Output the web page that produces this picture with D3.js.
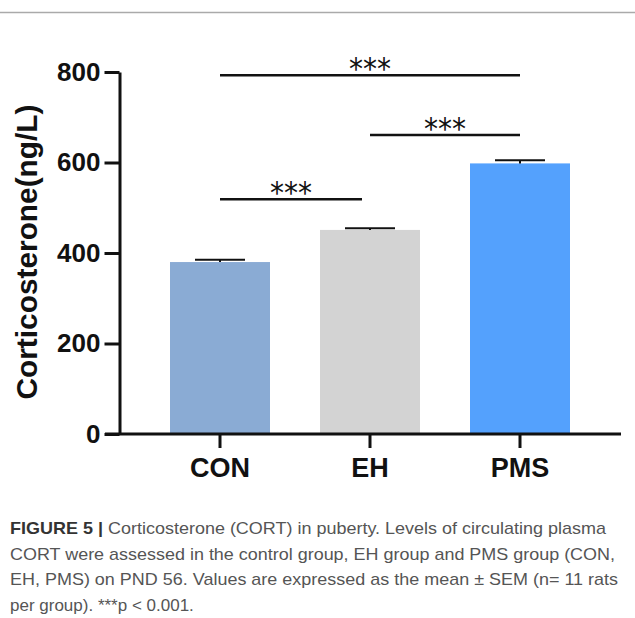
<!DOCTYPE html>
<html>
<head>
<meta charset="utf-8">
<script src="https://cdn.jsdelivr.net/npm/d3@7"></script>
<style>
  html, body { margin: 0; padding: 0; background: #fff; }
  svg { display: block; }
</style>
</head>
<body>
<div id="chart"></div>
<script>
// data
var groups = ["CON", "EH", "PMS"];
var means = [380, 451, 598];
var sems = [5, 3.5, 7];
var yTicks = [0, 200, 400, 600, 800];
// significance brackets (level in ng/L)
var sigFrom = ["CON", "EH", "CON"];
var sigTo = ["PMS", "PMS", "EH"];
var sigLevel = [793, 661, 519];
var sigLabel = ["***", "***", "***"];
var barColors = ["#8aabd4", "#d3d3d3", "#54a1fd"];

var captionLines = [
  "Corticosterone (CORT) in puberty. Levels of circulating plasma",
  "CORT were assessed in the control group, EH group and PMS group (CON,",
  "EH, PMS) on PND 56. Values are expressed as the mean \u00b1 SEM (n= 11 rats",
  "per group). ***p < 0.001."
];

var width = 635, height = 618;
var svg = d3.select("#chart").append("svg")
  .attr("width", width)
  .attr("height", height);

// thin rule at the top of the figure
svg.append("line")
  .attr("x1", 0).attr("x2", width)
  .attr("y1", 12.5).attr("y2", 12.5)
  .attr("stroke", "#aaa").attr("stroke-width", 1.5);

var x = d3.scaleBand()
  .domain(groups)
  .range([145, 595])
  .paddingInner(1 / 3)
  .paddingOuter(1 / 6);

var y = d3.scaleLinear()
  .domain([0, 800])
  .range([434, 72]);

var color = d3.scaleOrdinal().domain(groups).range(barColors);

var data = groups.map(function(g, i) {
  return { group: g, mean: means[i], sem: sems[i] };
});

// bars
svg.selectAll("rect.bar")
  .data(data)
  .enter().append("rect")
  .attr("class", "bar")
  .attr("x", function(d) { return x(d.group); })
  .attr("width", x.bandwidth())
  .attr("y", function(d) { return y(d.mean); })
  .attr("height", function(d) { return y(0) - y(d.mean); })
  .attr("fill", function(d) { return color(d.group); });

// error bars (upper only)
var err = svg.selectAll("g.err")
  .data(data)
  .enter().append("g")
  .attr("class", "err")
  .attr("stroke", "#111")
  .attr("stroke-width", 2);

err.append("line")
  .attr("x1", function(d) { return x(d.group) + x.bandwidth() / 2; })
  .attr("x2", function(d) { return x(d.group) + x.bandwidth() / 2; })
  .attr("y1", function(d) { return y(d.mean); })
  .attr("y2", function(d) { return y(d.mean + d.sem); });

err.append("line")
  .attr("x1", function(d) { return x(d.group) + x.bandwidth() / 2 - 25; })
  .attr("x2", function(d) { return x(d.group) + x.bandwidth() / 2 + 25; })
  .attr("y1", function(d) { return y(d.mean + d.sem); })
  .attr("y2", function(d) { return y(d.mean + d.sem); });

// y axis
var yAxis = svg.append("g")
  .attr("transform", "translate(119.5,0)")
  .call(d3.axisLeft(y).tickValues(yTicks).tickSize(15).tickSizeOuter(0).tickPadding(4));
yAxis.select(".domain").attr("stroke", "#111").attr("stroke-width", 3);
yAxis.selectAll(".tick line").attr("stroke", "#111").attr("stroke-width", 3);
yAxis.selectAll(".tick text")
  .attr("fill", "#111")
  .style("font-family", "'Liberation Sans', Arial, sans-serif")
  .style("font-weight", "bold")
  .style("font-size", "26px");

// x axis
var xAxis = svg.append("g")
  .attr("transform", "translate(0,434)")
  .call(d3.axisBottom(x).tickSize(14).tickSizeOuter(0).tickPadding(10));
xAxis.select(".domain")
  .attr("d", "M105,0H621")
  .attr("stroke", "#111").attr("stroke-width", 3);
xAxis.selectAll(".tick line").attr("stroke", "#111").attr("stroke-width", 3);
xAxis.selectAll(".tick text")
  .attr("fill", "#111")
  .style("font-family", "'Liberation Sans', Arial, sans-serif")
  .style("font-weight", "bold")
  .style("font-size", "27px");

// y axis title
svg.append("text")
  .attr("transform", "translate(37,252) rotate(-90)")
  .attr("text-anchor", "middle")
  .attr("fill", "#111")
  .attr("textLength", 295)
  .attr("lengthAdjust", "spacingAndGlyphs")
  .style("font-family", "'Liberation Sans', Arial, sans-serif")
  .style("font-weight", "bold")
  .style("font-size", "29px")
  .text("Corticosterone(ng/L)");

// significance brackets
var sig = sigLevel.map(function(lv, i) {
  return { from: sigFrom[i], to: sigTo[i], level: lv, label: sigLabel[i] };
});
var cx = function(g) { return x(g) + x.bandwidth() / 2; };

var sg = svg.selectAll("g.sig")
  .data(sig)
  .enter().append("g")
  .attr("class", "sig");

sg.append("line")
  .attr("x1", function(d) { return cx(d.from); })
  .attr("x2", function(d) { return cx(d.to) - (d.to === "EH" ? 8 : 0); })
  .attr("y1", function(d) { return y(d.level); })
  .attr("y2", function(d) { return y(d.level); })
  .attr("stroke", "#111")
  .attr("stroke-width", 2.5);

sg.append("text")
  .attr("x", function(d) { return (cx(d.from) + cx(d.to) - (d.to === "EH" ? 8 : 0)) / 2; })
  .attr("y", function(d) { return y(d.level) + 4; })
  .attr("text-anchor", "middle")
  .attr("fill", "#111")
  .style("font-family", "'DejaVu Sans', sans-serif")
  .style("font-size", "30px")
  .attr("textLength", 42)
  .attr("lengthAdjust", "spacingAndGlyphs")
  .text(function(d) { return d.label; });

// caption
var cap = svg.append("g")
  .style("font-family", "'Liberation Sans', Arial, sans-serif")
  .style("font-size", "17px")
  .attr("fill", "#555");

var capWidths = [596, 605, 608, null];
captionLines.forEach(function(line, i) {
  var t = cap.append("text")
    .attr("x", 10)
    .attr("y", 534 + i * 25.5);
  if (i === 0) {
    t.append("tspan")
      .attr("font-weight", "bold")
      .attr("fill", "#333")
      .text("FIGURE 5 | ");
  }
  t.append("tspan").text(line);
  if (capWidths[i]) {
    t.attr("textLength", capWidths[i]).attr("lengthAdjust", "spacingAndGlyphs");
  }
});
</script>
</body>
</html>
